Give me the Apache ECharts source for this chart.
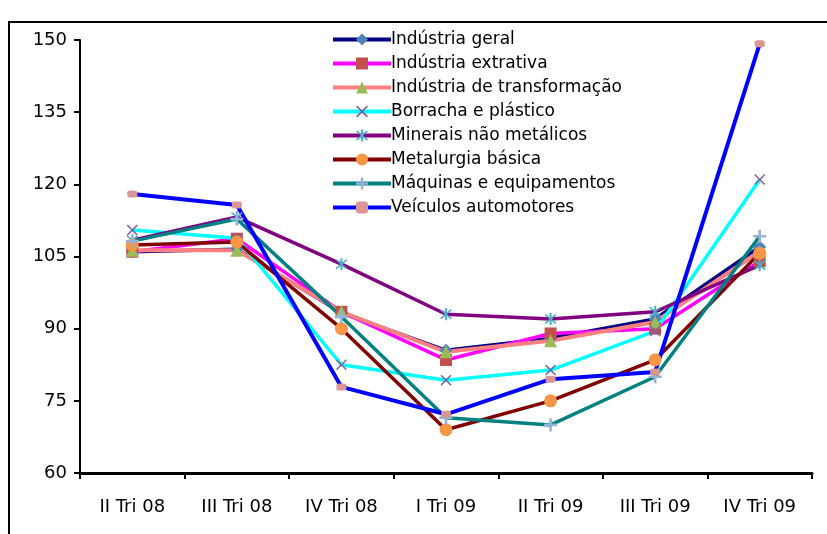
<!DOCTYPE html>
<html>
<head>
<meta charset="utf-8">
<script src="https://cdn.jsdelivr.net/npm/echarts@6/dist/echarts.min.js"></script>
<style>
  html, body { margin: 0; padding: 0; background: #fff; }
  #chart { width: 827px; height: 534px; }
</style>
</head>
<body>
<div id="chart"></div>
<script>
// quarters on the x axis
var quarters = ['II Tri 08', 'III Tri 08', 'IV Tri 08', 'I Tri 09', 'II Tri 09', 'III Tri 09', 'IV Tri 09']

// index values
var industriaGeral = [106, 106.5, 93.3, 85.5, 88, 92, 107]
var industriaExtrativa = [106, 108.7, 93.5, 83.5, 89, 90, 104]
var industriaTransformacao = [106.3, 106.3, 93.5, 85.2, 87.5, 91.4, 106]
var borrachaPlastico = [110.5, 108.8, 82.5, 79.3, 81.4, 89.5, 121]
var mineraisNaoMetalicos = [108.4, 113.2, 103.4, 93, 92, 93.5, 103.2]
var metalurgiaBasica = [107.4, 108, 90, 69, 75, 83.5, 105.7]
var maquinasEquipamentos = [108.2, 112.8, 92.5, 71.5, 70, 80, 109.2]
var veiculosAutomotores = [118, 115.7, 77.9, 72.2, 79.5, 81, 149.2]

var yTicks = { min: 60, max: 150, step: 15 }

var xMark = 'path://M1,0 L5,4 L9,0 L10,1 L6,5 L10,9 L9,10 L5,6 L1,10 L0,9 L4,5 L0,1 Z'
var plusMark = 'path://M4,0 H6 V4 H10 V6 H6 V10 H4 V6 H0 V4 H4 Z'
var starMark = 'path://M1,0 L5,4 L9,0 L10,1 L6,5 L10,9 L9,10 L5,6 L1,10 L0,9 L4,5 L0,1 Z M4.2,-1 H5.8 V11 H4.2 Z'

function makeSeries(name, data, lineColor, width, symbol, size, markColor) {
  return {
    name: name,
    type: 'line',
    data: data,
    symbol: symbol,
    symbolSize: size,
    showAllSymbol: true,
    lineStyle: { color: lineColor, width: width },
    itemStyle: { color: markColor, borderWidth: 0 },
    emphasis: { disabled: true },
    z: 2
  }
}

var chart = echarts.init(document.getElementById('chart'))
chart.setOption({
  backgroundColor: '#ffffff',
  animation: false,
  textStyle: { fontFamily: 'DejaVu Sans' },
  graphic: [{
    type: 'rect',
    shape: { x: 9, y: 22, width: 900, height: 600 },
    style: { fill: 'none', stroke: '#000', lineWidth: 2 },
    z: -10
  }],
  legend: {
    orient: 'vertical',
    left: 326,
    top: 26,
    itemWidth: 58,
    itemHeight: 15,
    itemGap: 7,
    lineStyle: { width: 4 },
    textStyle: { fontSize: 17, color: '#000', fontFamily: 'DejaVu Sans', padding: [0, 0, 0, -5] },
    data: ['Indústria geral', 'Indústria extrativa', 'Indústria de transformação', 'Borracha e plástico',
      'Minerais não metálicos', 'Metalurgia básica', 'Máquinas e equipamentos', 'Veículos automotores']
  },
  grid: { left: 80, top: 40, right: 15, bottom: 61 },
  xAxis: {
    type: 'category',
    data: quarters,
    boundaryGap: true,
    axisLine: { lineStyle: { color: '#000', width: 3 } },
    axisTick: { show: true, length: 6, lineStyle: { color: '#000', width: 2 } },
    axisLabel: { color: '#000', fontSize: 18, margin: 25, fontFamily: 'DejaVu Sans' },
    splitLine: { show: false }
  },
  yAxis: {
    type: 'value',
    min: yTicks.min,
    max: yTicks.max,
    interval: yTicks.step,
    axisLine: { show: true, lineStyle: { color: '#000', width: 2 } },
    axisTick: { show: true, length: 6, lineStyle: { color: '#000', width: 2 } },
    axisLabel: { color: '#000', fontSize: 18, margin: 13, fontFamily: 'DejaVu Sans' },
    splitLine: { show: false }
  },
  series: [
    makeSeries('Indústria geral', industriaGeral, '#000080', 3.5, 'diamond', 13, '#4F81BD'),
    makeSeries('Indústria extrativa', industriaExtrativa, '#FF00FF', 3.5, 'rect', 12, '#C0504D'),
    makeSeries('Indústria de transformação', industriaTransformacao, '#FF8080', 4, 'triangle', 13, '#9BBB59'),
    makeSeries('Borracha e plástico', borrachaPlastico, '#00FFFF', 3.5, xMark, 11, '#8064A2'),
    makeSeries('Minerais não metálicos', mineraisNaoMetalicos, '#800080', 3.5, starMark, 12, '#4BACC6'),
    makeSeries('Metalurgia básica', metalurgiaBasica, '#800000', 3.5, 'circle', 13, '#F79646'),
    makeSeries('Máquinas e equipamentos', maquinasEquipamentos, '#008080', 3.5, plusMark, 13, '#95B3D7'),
    makeSeries('Veículos automotores', veiculosAutomotores, '#0000FF', 4, 'roundRect', [10, 7], '#D99694')
  ]
})
</script>
</body>
</html>
